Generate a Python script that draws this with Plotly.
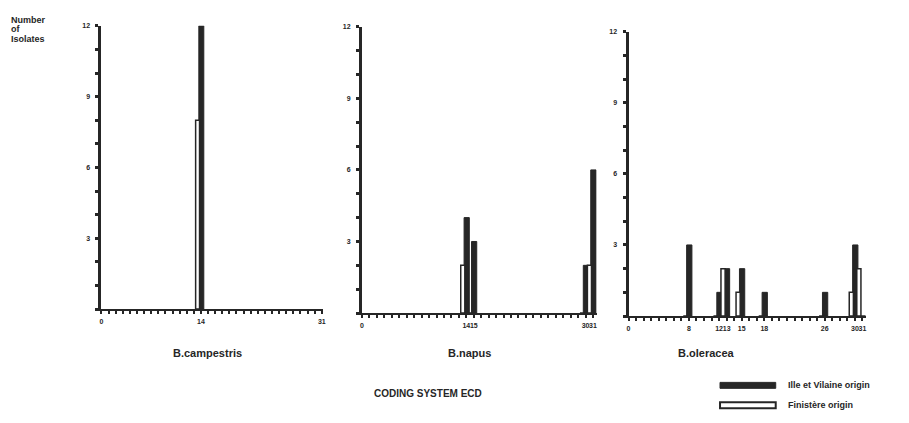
import plotly.graph_objects as go

# Code positions (coding system ECD) and isolate counts per species and origin
campestris_codes = [14]
campestris_iv = [12]
campestris_fin = [8]

napus_codes = [14, 15, 30, 31]
napus_iv = [4, 3, 2, 6]
napus_fin = [2, 0, 0, 2]

oleracea_codes = [8, 12, 13, 15, 18, 26, 30, 31]
oleracea_iv = [3, 1, 2, 2, 1, 1, 3, 0]
oleracea_fin = [0, 0, 2, 1, 0, 0, 1, 2]

campestris_ticks = [0, 14, 31]
napus_ticks = [0, 14, 15, 30, 31]
oleracea_ticks = [0, 8, 12, 13, 15, 18, 26, 30, 31]
y_ticks = [3, 6, 9, 12]

species = ["B.campestris", "B.napus", "B.oleracea"]
y_title_lines = ["Number", "of", "Isolates"]

INK = "#262626"
FONT = "Liberation Sans"

W, H = 909, 423

def px_x(p):
    return p / W

def px_y(p):
    return 1 - p / H

panels = [
    (campestris_codes, campestris_iv, campestris_fin, campestris_ticks, (100, 323), (22, 308), [0, 31.2]),
    (napus_codes, napus_iv, napus_fin, napus_ticks, (362, 598), (23, 312), [0, 31.5]),
    (oleracea_codes, oleracea_iv, oleracea_fin, oleracea_ticks, (630, 869), (28, 315), [0, 31.5]),
]

fig = go.Figure()
layout = dict(
    width=W, height=H,
    margin=dict(l=0, r=0, t=0, b=0),
    paper_bgcolor="white", plot_bgcolor="white",
    showlegend=False, barmode="overlay",
    font=dict(family=FONT, color=INK),
)

annotations = []
for i, (codes, iv, fin, ticks, (x0, x1), (y0, y1), xr) in enumerate(panels):
    n = "" if i == 0 else str(i + 1)
    xa, ya = "x" + n, "y" + n
    # Ille et Vilaine: solid bars
    fig.add_trace(go.Bar(
        x=codes, y=iv, xaxis=xa, yaxis=ya,
        width=0.7, offset=-0.3,
        marker=dict(color=INK, line=dict(color=INK, width=1)),
    ))
    # Finistère: open bars, drawn on top
    fig.add_trace(go.Bar(
        x=codes, y=fin, xaxis=xa, yaxis=ya,
        width=0.55, offset=-0.75,
        marker=dict(color="white", line=dict(color=INK, width=1.5)),
    ))
    axis_common = dict(
        showline=True, linecolor=INK, showgrid=False, zeroline=False,
        ticks="outside", tickcolor=INK, ticklen=3, tickangle=0,
        tickfont=dict(size=7, family=FONT, color=INK, weight="bold"),
        fixedrange=True,
    )
    layout["xaxis" + n] = dict(
        axis_common, domain=[px_x(x0), px_x(x1)], range=xr, anchor=ya,
        linewidth=2, tickwidth=2,
        tickmode="array", tickvals=ticks, ticktext=[str(t) for t in ticks],
        ticklabelstandoff=2,
        minor=dict(dtick=1, tick0=0, ticks="outside", ticklen=3, tickwidth=2, tickcolor=INK),
    )
    layout["yaxis" + n] = dict(
        axis_common, domain=[px_y(y1), px_y(y0)], range=[0, 12], anchor=xa,
        linewidth=3, tickwidth=3,
        tickmode="array", tickvals=y_ticks, ticktext=[str(t) for t in y_ticks],
        ticklabelstandoff=4,
        minor=dict(dtick=1, tick0=0, ticks="outside", ticklen=3, tickwidth=3, tickcolor=INK),
    )
    annotations.append(dict(
        text="<b>" + species[i] + "</b>", xref="paper", yref="paper",
        x=px_x([207, 470, 708][i]), y=px_y(352), xanchor="center", yanchor="middle",
        showarrow=False, font=dict(size=11, family=FONT, color=INK),
    ))

# Stacked y-axis caption, tightly spaced lines
for k, line in enumerate(y_title_lines):
    annotations.append(dict(
        text="<b>" + line + "</b>", xref="paper", yref="paper",
        x=px_x(7), y=px_y(16 + 9.5 * k), xanchor="left", yanchor="middle",
        showarrow=False, font=dict(size=9, family=FONT, color=INK),
    ))

annotations += [
    dict(text="<b>CODING SYSTEM ECD</b>", xref="paper", yref="paper",
         x=px_x(428), y=px_y(393), xanchor="center", yanchor="middle",
         showarrow=False, font=dict(size=10, family=FONT, color=INK)),
    dict(text="<b>Ille et Vilaine origin</b>", xref="paper", yref="paper",
         x=px_x(788), y=px_y(385), xanchor="left", yanchor="middle",
         showarrow=False, font=dict(size=9, family=FONT, color=INK)),
    dict(text="<b>Finistère origin</b>", xref="paper", yref="paper",
         x=px_x(788), y=px_y(405), xanchor="left", yanchor="middle",
         showarrow=False, font=dict(size=9, family=FONT, color=INK)),
]

# Legend swatches
shapes = [
    dict(type="rect", xref="paper", yref="paper",
         x0=px_x(722), x1=px_x(778), y0=px_y(388), y1=px_y(382),
         fillcolor=INK, line=dict(color=INK, width=1)),
    dict(type="rect", xref="paper", yref="paper",
         x0=px_x(722), x1=px_x(778), y0=px_y(408), y1=px_y(402),
         fillcolor="white", line=dict(color=INK, width=2)),
]

layout["annotations"] = annotations
layout["shapes"] = shapes
fig.update_layout(**layout)

fig.write_html("out.html")
